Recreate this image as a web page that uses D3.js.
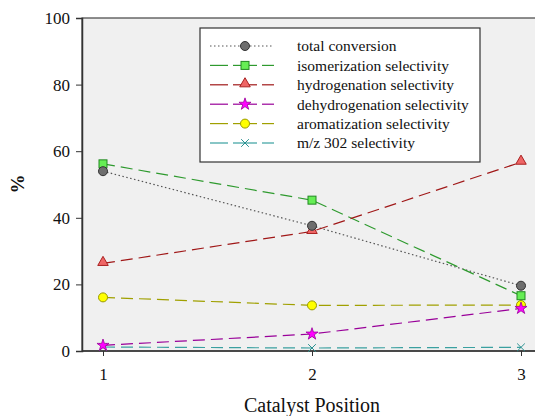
<!DOCTYPE html>
<html>
<head>
<meta charset="utf-8">
<script src="https://cdn.jsdelivr.net/npm/d3@7"></script>
<style>
  body { margin: 0; background: #fff; }
  #container { width: 535px; height: 416px; }
  text { font-family: "Liberation Serif", "Times New Roman", serif; fill: #111; }
</style>
</head>
<body>
<div id="container"></div>
<script>
const container = d3.select('#container')

// data
const positions = [1, 2, 3];
const totalConversion = [54.0, 37.6, 19.6];
const isomerization = [56.2, 45.3, 16.6];
const hydrogenation = [26.3, 35.9, 56.7];
const dehydrogenation = [1.7, 5.1, 12.8];
const aromatization = [16.1, 13.7, 13.8];
const mz302 = [1.2, 0.9, 1.1];
const yTicks = [0, 20, 40, 60, 80, 100];

const series = [
    { name: "total conversion", values: totalConversion, line: "#555555", dash: "1.5,2.5", marker: "circle", fill: "#6e6e6e", stroke: "#333333" },
    { name: "isomerization selectivity", values: isomerization, line: "#2e9a2e", dash: "12,6", marker: "square", fill: "#66ee55", stroke: "#228822" },
    { name: "hydrogenation selectivity", values: hydrogenation, line: "#a01818", dash: "12,6", marker: "triangle", fill: "#ee6666", stroke: "#aa2222" },
    { name: "dehydrogenation selectivity", values: dehydrogenation, line: "#990099", dash: "12,6", marker: "star", fill: "#ff00ff", stroke: "#990099" },
    { name: "aromatization selectivity", values: aromatization, line: "#a0a000", dash: "12,6", marker: "circle", fill: "#ffff00", stroke: "#999900" },
    { name: "m/z 302 selectivity", values: mz302, line: "#3aa0a0", dash: "12,6", marker: "cross", fill: "none", stroke: "#2a9090" }
];

const width = 535, height = 416;
const plotL = 82, plotT = 18, plotB = 351;

const svg = container.append('svg')
    .attr('width', width)
    .attr('height', height);

const x = d3.scaleLinear().domain([1, 3]).range([103, 521]);
const y = d3.scaleLinear().domain([0, 100]).range([plotB, plotT]);

// plot background
svg.append("rect")
    .attr("x", plotL).attr("y", plotT)
    .attr("width", width - plotL + 2).attr("height", plotB - plotT)
    .attr("fill", "#f0f0f0")
    .attr("stroke", "#444").attr("stroke-width", 1.2);

// axes
const yAxis = svg.append("g")
    .attr("transform", `translate(${plotL},0)`)
    .call(d3.axisLeft(y).tickValues(yTicks).tickSize(6).tickPadding(6));
yAxis.select(".domain").attr("stroke", "#333").attr("stroke-width", 1.5);
yAxis.selectAll(".tick line").attr("stroke", "#333");
yAxis.selectAll("text").style("font-size", "17px").style("font-family", "Liberation Serif").attr("fill", "#111");

const xAxis = svg.append("g")
    .attr("transform", `translate(0,${plotB})`)
    .call(d3.axisBottom(x).tickValues(positions).tickFormat(d3.format("d")).tickSize(5).tickPadding(12));
xAxis.select(".domain").remove();
xAxis.selectAll(".tick line").attr("stroke", "#333");
xAxis.selectAll("text").style("font-size", "17px").style("font-family", "Liberation Serif").attr("fill", "#111");
svg.append("line")
    .attr("x1", plotL).attr("x2", width)
    .attr("y1", plotB).attr("y2", plotB)
    .attr("stroke", "#333").attr("stroke-width", 1.5);

// axis titles
svg.append("text")
    .attr("x", 312).attr("y", 412)
    .attr("text-anchor", "middle")
    .style("font-size", "20px")
    .text("Catalyst Position");

svg.append("text")
    .attr("transform", "translate(24,184) rotate(-90)")
    .attr("text-anchor", "middle")
    .style("font-size", "19px")
    .style("font-weight", "bold")
    .text("%");

function drawMarker(g, s, cx, cy) {
    if (s.marker === "circle") {
        g.append("circle").attr("cx", cx).attr("cy", cy).attr("r", 4.5)
            .attr("fill", s.fill).attr("stroke", s.stroke).attr("stroke-width", 1);
    } else if (s.marker === "square") {
        g.append("rect").attr("x", cx - 4).attr("y", cy - 4).attr("width", 8).attr("height", 8)
            .attr("fill", s.fill).attr("stroke", s.stroke).attr("stroke-width", 1);
    } else if (s.marker === "triangle") {
        g.append("path").attr("d", d3.symbol(d3.symbolTriangle, 48)())
            .attr("transform", `translate(${cx},${cy - 1})`)
            .attr("fill", s.fill).attr("stroke", s.stroke).attr("stroke-width", 1);
    } else if (s.marker === "star") {
        g.append("path").attr("d", d3.symbol(d3.symbolStar, 45)())
            .attr("transform", `translate(${cx},${cy})`)
            .attr("fill", s.fill).attr("stroke", s.stroke).attr("stroke-width", 0.8);
    } else if (s.marker === "cross") {
        g.append("path").attr("d", d3.symbol(d3.symbolX, 40)())
            .attr("transform", `translate(${cx},${cy})`)
            .attr("fill", "none").attr("stroke", s.stroke).attr("stroke-width", 1);
    }
}

const line = d3.line()
    .x((d, i) => x(positions[i]))
    .y(d => y(d));

const lines = svg.append("g");
series.forEach(s => {
    lines.append("path")
        .attr("d", line(s.values))
        .attr("fill", "none")
        .attr("stroke", s.line)
        .attr("stroke-width", 1.2)
        .attr("stroke-dasharray", s.dash);
});
// markers on top, last series drawn first so the first sits above
series.slice().reverse().forEach(s => {
    const g = svg.append("g");
    s.values.forEach((v, i) => drawMarker(g, s, x(positions[i]), y(v)));
});

// legend
const legend = svg.append("g");
legend.append("rect")
    .attr("x", 200).attr("y", 28)
    .attr("width", 280).attr("height", 134)
    .attr("fill", "#fff")
    .attr("stroke", "#333").attr("stroke-width", 1.2);

series.forEach((s, i) => {
    const ly = 46 + i * 19.4;
    const g = legend.append("g");
    if (i === 0) {
        g.append("line")
            .attr("x1", 210).attr("x2", 274)
            .attr("y1", ly).attr("y2", ly)
            .attr("stroke", s.line).attr("stroke-width", 1.2)
            .attr("stroke-dasharray", s.dash);
    } else {
        [[210, 228], [233, 257], [262, 274]].forEach(seg => {
            g.append("line")
                .attr("x1", seg[0]).attr("x2", seg[1])
                .attr("y1", ly).attr("y2", ly)
                .attr("stroke", s.line).attr("stroke-width", 1.2);
        });
    }
    drawMarker(g, s, 245, ly);
    g.append("text")
        .attr("x", 297).attr("y", ly)
        .attr("dy", "0.35em")
        .style("font-size", "15.5px")
        .text(s.name);
});
</script>
</body>
</html>
